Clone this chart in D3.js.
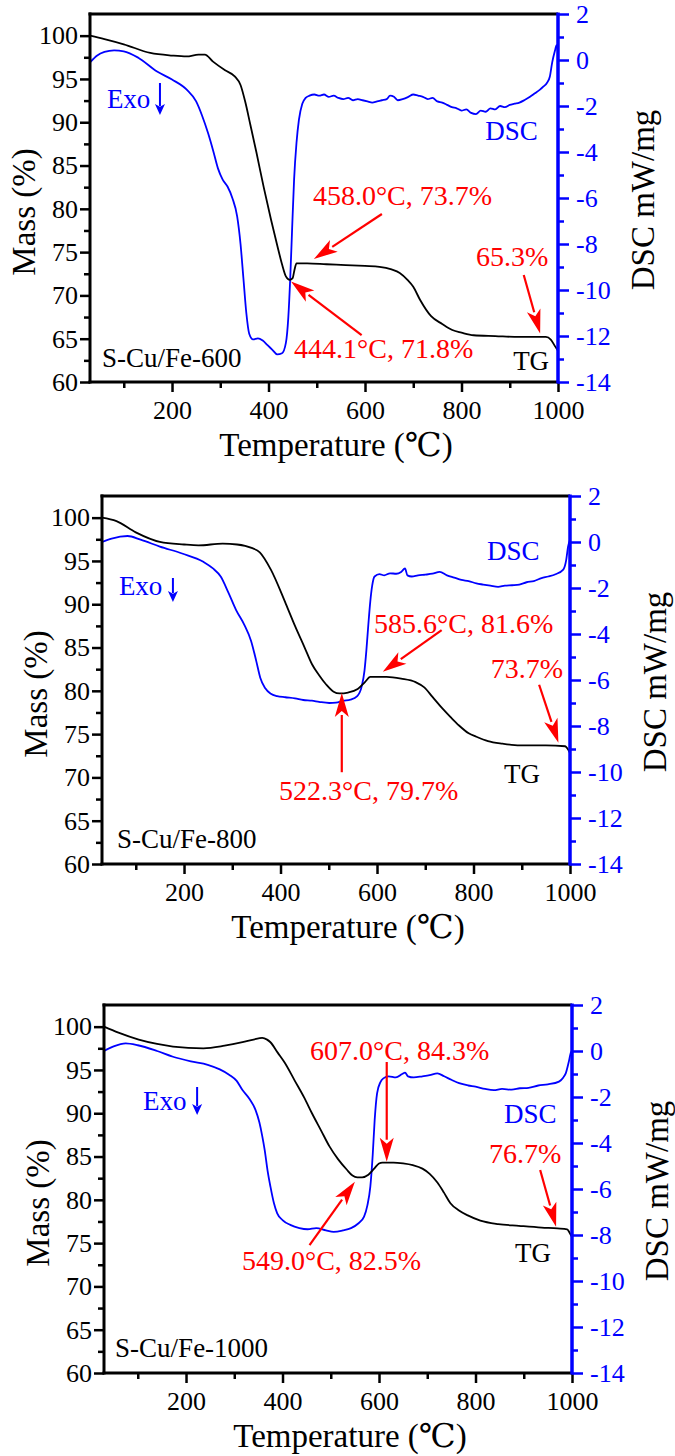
<!DOCTYPE html>
<html>
<head>
<meta charset="utf-8">
<script src="https://cdn.jsdelivr.net/npm/d3@7"></script>
<style>
body { margin: 0; background: #fff; }
svg { display: block; }
svg text { font-family: "Liberation Serif", "Times New Roman", Times, "DejaVu Serif", serif !important; }
</style>
</head>
<body>
<svg id="chart" width="675" height="1456"></svg>
<script>
// tick values
var tempTicks = [200, 400, 600, 800, 1000];
var tempMinor = [100, 300, 500, 700, 900];
var massTicks = [60, 65, 70, 75, 80, 85, 90, 95, 100];
var massMinor = [62.5, 67.5, 72.5, 77.5, 82.5, 87.5, 92.5, 97.5];
var dscTicks = [-14, -12, -10, -8, -6, -4, -2, 0, 2];
var dscMinor = [-13, -11, -9, -7, -5, -3, -1, 1];

// S-Cu/Fe-600 : [temperature, mass %] and [temperature, DSC mW/mg]
var tg600 = [[30,100],[60,99.6],[100,99.0],[155,98.0],[200,97.7],[230,97.6],[255,97.8],[268,97.8],[285,97.0],[310,96.0],[330,95.3],[342,94.3],[352,92.3],[362,89.8],[375,86.5],[390,82.5],[405,78.8],[418,75.8],[428,73.6],[436,72.2],[444.1,71.8],[450,72.0],[454,73.0],[458,73.7],[480,73.7],[520,73.6],[560,73.5],[600,73.4],[630,73.3],[655,73.0],[672,72.6],[688,71.8],[700,71.0],[714,69.5],[737,67.6],[760,66.7],[781,66.0],[800,65.7],[825,65.4],[870,65.3],[920,65.2],[975,65.2],[985,64.9],[993,64.2],[1000,63.6]];
var dsc600 = [[30,-0.1],[45,0.2],[60,0.35],[80,0.42],[100,0.38],[130,0.1],[169,-0.5],[200,-0.85],[231,-1.3],[250,-1.8],[262,-2.4],[275,-3.2],[286,-4.0],[295,-4.7],[305,-5.2],[315,-5.5],[325,-6.0],[335,-6.8],[342,-8.0],[348,-9.5],[354,-11.0],[360,-11.9],[368,-12.15],[378,-12.1],[388,-12.2],[398,-12.4],[408,-12.6],[418,-12.8],[428,-12.75],[436,-12.3],[441,-11.2],[445,-9.5],[449,-7.3],[453,-5.2],[458,-3.6],[463,-2.6],[470,-1.9],[477,-1.65],[485,-1.55],[495,-1.5],[505,-1.55],[515,-1.5],[525,-1.6],[535,-1.55],[545,-1.65],[555,-1.7],[565,-1.65],[575,-1.75],[585,-1.7],[595,-1.75],[605,-1.8],[615,-1.85],[625,-1.8],[635,-1.75],[645,-1.7],[652,-1.55],[660,-1.6],[668,-1.75],[678,-1.7],[690,-1.6],[700,-1.5],[710,-1.55],[720,-1.6],[730,-1.7],[740,-1.65],[750,-1.8],[760,-1.85],[770,-1.95],[780,-2.05],[790,-2.1],[800,-2.2],[810,-2.15],[820,-2.3],[830,-2.35],[840,-2.2],[850,-2.25],[860,-2.1],[870,-2.15],[880,-2.0],[890,-2.05],[900,-1.95],[910,-1.9],[920,-1.85],[930,-1.75],[942,-1.6],[952,-1.45],[962,-1.3],[970,-1.15],[977,-1.0],[983,-0.73],[988,-0.1],[994,0.43],[997,0.65],[1000,0.35]];

// S-Cu/Fe-800
var tg800 = [[30,100],[60,99.6],[100,98.3],[150,97.2],[200,96.9],[230,96.8],[280,97.0],[310,96.9],[340,96.5],[357,96.0],[380,94.0],[411,90.05],[430,87.5],[450,85.0],[465,83.1],[480,81.8],[495,80.7],[510,79.9],[522.3,79.7],[540,79.8],[560,80.2],[575,81.0],[586,81.6],[620,81.6],[650,81.4],[680,81.0],[698,80.4],[715,79.3],[735,78.0],[752,77.0],[770,76.0],[790,75.1],[806,74.7],[830,74.2],[860,73.9],[896,73.7],[950,73.7],[990,73.6],[995,73.3],[1000,72.8]];
var dsc800 = [[30,0.0],[50,0.15],[83,0.26],[110,0.1],[150,-0.2],[196,-0.5],[240,-0.86],[260,-1.15],[276,-1.5],[292,-2.2],[308,-2.96],[325,-3.6],[339,-4.3],[350,-5.2],[358,-5.9],[368,-6.35],[380,-6.6],[393,-6.7],[410,-6.75],[430,-6.8],[447,-6.87],[465,-6.9],[480,-6.95],[501,-7.0],[515,-6.98],[530,-6.9],[545,-6.85],[559,-6.7],[568,-6.3],[574,-5.6],[578,-4.7],[582,-3.6],[586,-2.6],[590,-1.9],[595,-1.5],[605,-1.4],[615,-1.45],[627,-1.36],[640,-1.38],[650,-1.3],[658,-1.15],[663,-1.45],[672,-1.5],[685,-1.45],[700,-1.42],[715,-1.38],[730,-1.3],[745,-1.45],[760,-1.55],[775,-1.65],[790,-1.7],[806,-1.8],[820,-1.85],[835,-1.9],[851,-1.95],[865,-1.9],[880,-1.88],[895,-1.85],[910,-1.75],[925,-1.7],[941,-1.57],[955,-1.5],[970,-1.4],[986,-1.2],[992,-0.8],[996,-0.2],[1000,0.1]];

// S-Cu/Fe-1000
var tg1000 = [[30,100],[60,99.3],[102,98.5],[140,98.0],[173,97.7],[236,97.5],[280,97.8],[317,98.2],[340,98.5],[358,98.7],[368,98.5],[375,98.2],[390,97.0],[405,95.8],[425,93.8],[445,91.8],[461,90.0],[480,88.0],[497,86.2],[515,84.7],[533,83.5],[545,82.8],[555,82.6],[565,82.6],[578,82.9],[590,83.6],[600,84.2],[607,84.3],[630,84.3],[650,84.2],[670,84.0],[690,83.6],[705,83.0],[721,82.0],[735,80.8],[748,79.6],[765,78.8],[784,78.2],[810,77.6],[847,77.2],[890,77.0],[937,76.8],[970,76.7],[990,76.6],[995,76.2],[1000,75.7]];
var dsc1000 = [[30,0.0],[50,0.2],[75,0.33],[100,0.25],[140,0.0],[173,-0.25],[210,-0.45],[245,-0.6],[270,-0.8],[290,-1.04],[305,-1.3],[317,-1.7],[332,-2.1],[344,-2.56],[352,-3.1],[358,-3.7],[363,-4.3],[369,-5.2],[375,-5.9],[382,-6.6],[389,-7.06],[400,-7.35],[416,-7.56],[435,-7.7],[452,-7.75],[470,-7.7],[490,-7.8],[506,-7.86],[525,-7.8],[542,-7.7],[557,-7.5],[569,-7.2],[576,-6.7],[582,-5.9],[587,-4.5],[591,-3.0],[596,-1.84],[603,-1.35],[609,-1.19],[620,-1.1],[635,-1.15],[648,-1.0],[654,-0.94],[660,-1.1],[672,-1.15],[690,-1.1],[705,-1.05],[721,-0.97],[735,-1.1],[750,-1.25],[766,-1.4],[785,-1.5],[800,-1.55],[820,-1.65],[838,-1.7],[855,-1.65],[875,-1.68],[892,-1.62],[910,-1.6],[930,-1.5],[950,-1.45],[973,-1.33],[982,-1.15],[987,-0.97],[993,-0.5],[998,-0.05],[1000,0.0]];

// red annotations: label anchor and arrow (temperature, mass)
var notes600 = [
  {text: "458.0°C, 73.7%", t: 492, m: 80.44, from: [635, 79.4], to: [494, 74.2]},
  {text: "444.1°C, 71.8%", t: 453, m: 62.77, from: [593, 65.4], to: [446.6, 71.6]},
  {text: "65.3%", t: 830, m: 73.4, from: [929, 72.36], to: [963, 65.6]}
];
var notes800 = [
  {text: "585.6°C, 81.6%", t: 594, m: 86.68, from: [734, 87.0], to: [612, 82.2]},
  {text: "522.3°C, 79.7%", t: 397, m: 67.39, from: [527, 70.6], to: [527, 79.75]},
  {text: "73.7%", t: 836, m: 81.48, from: [936, 80.7], to: [976, 74.0]}
];
var notes1000 = [
  {text: "607.0°C, 84.3%", t: 457, m: 96.15, from: [616, 95.92], to: [616, 84.4]},
  {text: "549.0°C, 82.5%", t: 316, m: 71.9, from: [456, 74.78], to: [550, 82.1]},
  {text: "76.7%", t: 828, m: 84.25, from: [934, 83.45], to: [967, 76.9]}
];

var panels = [
  {name: "S-Cu/Fe-600", left: 90, top: 14, tg: tg600, dsc: dsc600, notes: notes600,
   namePos: [55, 61.7], tgPos: [907, 61.4], dscPos: [849, 87.95], exoPos: [65, 91.64], exoArrow: [175, 94.53, 90.84]},
  {name: "S-Cu/Fe-800", left: 102, top: 496, tg: tg800, dsc: dsc800, notes: notes800,
   namePos: [61, 61.85], tgPos: [863, 69.36], dscPos: [828, 95.1], exoPos: [65, 91.07], exoArrow: [177, 93.03, 90.26]},
  {name: "S-Cu/Fe-1000", left: 104, top: 1005, tg: tg1000, dsc: dsc1000, notes: notes1000,
   namePos: [53, 61.85], tgPos: [882, 72.8], dscPos: [859, 88.87], exoPos: [111, 90.37], exoArrow: [223, 93.03, 89.8]}
];

var svg = d3.select("#chart");
var W = 468, H = 368;
var BLUE = "#0000ff", RED = "#ff0000";
var SERIF = "'Liberation Serif', 'Times New Roman', Times, 'DejaVu Serif', serif";

function arrow(g, x1, y1, x2, y2, color, len, half, lw) {
  var dx = x2 - x1, dy = y2 - y1;
  var d = Math.sqrt(dx * dx + dy * dy);
  var ux = dx / d, uy = dy / d;
  var bx = x2 - ux * len, by = y2 - uy * len;
  g.append("line")
    .attr("x1", x1).attr("y1", y1)
    .attr("x2", bx + ux * 2).attr("y2", by + uy * 2)
    .attr("stroke", color).attr("stroke-width", lw);
  g.append("path")
    .attr("d", "M" + x2 + "," + y2 +
      "L" + (bx - uy * half) + "," + (by + ux * half) +
      "L" + (bx + ux * len * 0.25) + "," + (by + uy * len * 0.25) +
      "L" + (bx + uy * half) + "," + (by - ux * half) + "Z")
    .attr("fill", color);
}

function drawPanel(p) {
  var g = svg.append("g").attr("transform", "translate(" + p.left + "," + p.top + ")")
    .attr("font-family", SERIF);
  var x = d3.scaleLinear().domain([30, 1000]).range([0, W]);
  var yM = d3.scaleLinear().domain([60, 102.5]).range([H, 0]);
  var yD = d3.scaleLinear().domain([-14, 2]).range([H, 0]);

  var lineM = d3.line().x(function(d) { return x(d[0]); }).y(function(d) { return yM(d[1]); }).curve(d3.curveMonotoneX);
  var lineD = d3.line().x(function(d) { return x(d[0]); }).y(function(d) { return yD(d[1]); }).curve(d3.curveMonotoneX);

  g.append("path").datum(p.dsc).attr("d", lineD)
    .attr("fill", "none").attr("stroke", BLUE).attr("stroke-width", 1.8);
  g.append("path").datum(p.tg).attr("d", lineM)
    .attr("fill", "none").attr("stroke", "#000").attr("stroke-width", 1.8);

  // bottom axis
  g.append("g").attr("transform", "translate(0," + H + ")")
    .call(d3.axisBottom(x).tickValues(tempTicks).tickSizeInner(10).tickSizeOuter(0).tickPadding(9).tickFormat(d3.format("d")));
  g.append("g").attr("transform", "translate(0," + H + ")")
    .call(d3.axisBottom(x).tickValues(tempMinor).tickSizeInner(6).tickSizeOuter(0).tickFormat(""));

  // left axis
  g.append("g")
    .call(d3.axisLeft(yM).tickValues(massTicks).tickSizeInner(10).tickSizeOuter(0).tickPadding(2).tickFormat(d3.format("d")));
  g.append("g")
    .call(d3.axisLeft(yM).tickValues(massMinor).tickSizeInner(6).tickSizeOuter(0).tickFormat(""));

  // right axis
  g.append("g").attr("class", "blue").attr("transform", "translate(" + W + ",0)")
    .call(d3.axisRight(yD).tickValues(dscTicks).tickSizeInner(11).tickSizeOuter(0).tickPadding(7).tickFormat(function(d) { return String(d); }));
  g.append("g").attr("class", "blue").attr("transform", "translate(" + W + ",0)")
    .call(d3.axisRight(yD).tickValues(dscMinor).tickSizeInner(6).tickSizeOuter(0).tickFormat(""));

  g.selectAll(".domain").remove();
  g.selectAll("g").attr("font-family", SERIF);
  g.selectAll(".tick line").attr("stroke-width", 2.5);
  g.selectAll(".tick text").attr("font-size", 26).attr("fill", "#000");
  g.selectAll(".blue .tick line").attr("stroke", BLUE);
  g.selectAll(".blue .tick text").attr("fill", BLUE);

  // frame
  g.append("line").attr("x1", -1.5).attr("x2", W).attr("y1", 0).attr("y2", 0).attr("stroke", "#000").attr("stroke-width", 3);
  g.append("line").attr("x1", -1.5).attr("x2", W).attr("y1", H).attr("y2", H).attr("stroke", "#000").attr("stroke-width", 3);
  g.append("line").attr("x1", 0).attr("x2", 0).attr("y1", -1.5).attr("y2", H + 1.5).attr("stroke", "#000").attr("stroke-width", 3);
  g.append("line").attr("x1", W).attr("x2", W).attr("y1", -1.5).attr("y2", H + 1.5).attr("stroke", BLUE).attr("stroke-width", 3.5);

  // axis titles
  g.append("text").attr("x", W / 2 + 12).attr("y", H + 74)
    .attr("text-anchor", "middle").attr("font-size", 33).text("Temperature (℃)");
  g.append("text").attr("transform", "translate(-67," + (H / 2 + 14) + ") rotate(-90)")
    .attr("text-anchor", "middle").attr("dy", "0.35em").attr("font-size", 33).text("Mass (%)");
  g.append("text").attr("transform", "translate(" + (W + 84) + "," + (H / 2 + 2) + ") rotate(-90)")
    .attr("text-anchor", "middle").attr("dy", "0.35em").attr("font-size", 33).text("DSC mW/mg");

  // labels
  g.append("text").attr("x", x(p.namePos[0])).attr("y", yM(p.namePos[1]))
    .attr("font-size", 27).text(p.name);
  g.append("text").attr("x", x(p.tgPos[0])).attr("y", yM(p.tgPos[1]))
    .attr("font-size", 27).text("TG");
  g.append("text").attr("x", x(p.dscPos[0])).attr("y", yM(p.dscPos[1]))
    .attr("font-size", 27).attr("fill", BLUE).text("DSC");
  g.append("text").attr("x", x(p.exoPos[0])).attr("y", yM(p.exoPos[1]))
    .attr("font-size", 27).attr("fill", BLUE).text("Exo");
  arrow(g, x(p.exoArrow[0]), yM(p.exoArrow[1]), x(p.exoArrow[0]), yM(p.exoArrow[2]), BLUE, 11, 5, 2);

  p.notes.forEach(function(n) {
    g.append("text").attr("x", x(n.t)).attr("y", yM(n.m))
      .attr("font-size", 28).attr("fill", RED).text(n.text);
    arrow(g, x(n.from[0]), yM(n.from[1]), x(n.to[0]), yM(n.to[1]), RED, 24, 7, 2.2);
  });
}

panels.forEach(drawPanel);
</script>
</body>
</html>
